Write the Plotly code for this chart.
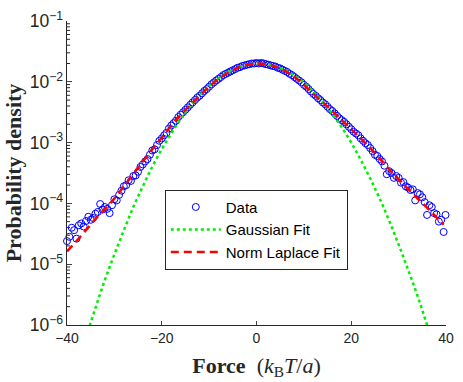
import plotly.graph_objects as go

# measured force distribution (bin centres, probability density)
force = [
    -40.0, -39.5, -39.0, -38.5, -38.0, -37.5, -37.0, -36.5, -36.0, -35.5,
    -35.0, -34.5, -34.0, -33.5, -33.0, -32.5, -32.0, -31.5, -31.0, -30.5,
    -30.0, -29.5, -29.0, -28.5, -28.0, -27.5, -27.0, -26.5, -26.0, -25.5,
    -25.0, -24.5, -24.0, -23.5, -23.0, -22.5, -22.0, -21.5, -21.0, -20.5,
    -20.0, -19.5, -19.0, -18.5, -18.0, -17.5, -17.0, -16.5, -16.0, -15.5,
    -15.0, -14.5, -14.0, -13.5, -13.0, -12.5, -12.0, -11.5, -11.0, -10.5,
    -10.0, -9.5, -9.0, -8.5, -8.0, -7.5, -7.0, -6.5, -6.0, -5.5,
    -5.0, -4.5, -4.0, -3.5, -3.0, -2.5, -2.0, -1.5, -1.0, -0.5,
    0.0, 0.5, 1.0, 1.5, 2.0, 2.5, 3.0, 3.5, 4.0, 4.5,
    5.0, 5.5, 6.0, 6.5, 7.0, 7.5, 8.0, 8.5, 9.0, 9.5,
    10.0, 10.5, 11.0, 11.5, 12.0, 12.5, 13.0, 13.5, 14.0, 14.5,
    15.0, 15.5, 16.0, 16.5, 17.0, 17.5, 18.0, 18.5, 19.0, 19.5,
    20.0, 20.5, 21.0, 21.5, 22.0, 22.5, 23.0, 23.5, 24.0, 24.5,
    25.0, 25.5, 26.0, 26.5, 27.0, 27.5, 28.0, 28.5, 29.0, 29.5,
    30.0, 30.5, 31.0, 31.5, 32.0, 32.5, 33.0, 33.5, 34.0, 34.5,
    35.0, 35.5, 36.0, 36.5, 37.0, 37.5, 38.0, 38.5, 39.0, 39.5,
    39.9,
]
density = [
    2.40e-5, 2.82e-5, 3.98e-5, 3.63e-5, 2.63e-5, 4.37e-5, 4.68e-5, 4.17e-5, 5.13e-5, 6.03e-5,
    5.37e-5, 5.75e-5, 6.76e-5, 7.24e-5, 9.77e-5, 7.94e-5, 8.71e-5, 8.13e-5, 6.92e-5, 9.33e-5,
    1.17e-4, 1.12e-4, 1.38e-4, 1.62e-4, 1.91e-4, 2.00e-4, 2.40e-4, 2.34e-4, 2.82e-4, 2.88e-4,
    3.31e-4, 3.98e-4, 4.37e-4, 4.90e-4, 5.37e-4, 6.31e-4, 7.41e-4, 7.76e-4, 9.12e-4, 1.07e-3,
    1.17e-3, 1.32e-3, 1.45e-3, 1.70e-3, 1.91e-3, 2.09e-3, 2.29e-3, 2.63e-3, 2.88e-3, 3.16e-3,
    3.47e-3, 3.80e-3, 4.17e-3, 4.57e-3, 5.01e-3, 5.50e-3, 5.89e-3, 6.46e-3, 7.08e-3, 7.59e-3,
    8.32e-3, 9.12e-3, 9.77e-3, 1.05e-2, 1.12e-2, 1.20e-2, 1.29e-2, 1.35e-2, 1.41e-2, 1.48e-2,
    1.55e-2, 1.62e-2, 1.70e-2, 1.74e-2, 1.82e-2, 1.86e-2, 1.91e-2, 1.95e-2, 2.00e-2, 2.00e-2,
    2.04e-2, 2.00e-2, 2.04e-2, 2.00e-2, 1.95e-2, 1.91e-2, 1.86e-2, 1.82e-2, 1.78e-2, 1.70e-2,
    1.66e-2, 1.58e-2, 1.51e-2, 1.45e-2, 1.35e-2, 1.29e-2, 1.20e-2, 1.12e-2, 1.05e-2, 9.77e-3,
    8.91e-3, 8.32e-3, 7.59e-3, 6.92e-3, 6.31e-3, 5.89e-3, 5.37e-3, 5.01e-3, 4.57e-3, 4.27e-3,
    3.89e-3, 3.55e-3, 3.31e-3, 3.02e-3, 2.75e-3, 2.51e-3, 2.34e-3, 2.19e-3, 2.00e-3, 1.82e-3,
    1.66e-3, 1.51e-3, 1.41e-3, 1.32e-3, 1.17e-3, 1.07e-3, 9.77e-4, 9.12e-4, 8.13e-4, 7.24e-4,
    6.31e-4, 6.03e-4, 5.37e-4, 4.90e-4, 4.17e-4, 3.02e-4, 3.39e-4, 3.16e-4, 2.63e-4, 2.82e-4,
    2.63e-4, 2.19e-4, 2.24e-4, 1.91e-4, 1.82e-4, 1.66e-4, 1.70e-4, 1.12e-4, 1.48e-4, 1.41e-4,
    1.26e-4, 1.05e-4, 6.46e-5, 9.33e-5, 8.71e-5, 6.92e-5, 6.61e-5, 5.01e-5, 5.37e-5, 3.39e-5,
    6.46e-5,
]

# gaussian fit
gauss_force = [
    -36, -34, -32, -30, -28, -26, -24, -22, -20, -18, -16, -14, -12, -10, -8, -6, -4, -2,
    0, 2, 4, 6, 8, 10, 12, 14, 16, 18, 20, 22, 24, 26, 28, 30, 32, 34, 36, 38,
]
gauss_density = [
    6.3e-7, 1.9e-6, 5.5e-6, 1.45e-5, 3.6e-5, 8.7e-5, 1.9e-4, 4.0e-4, 7.8e-4, 1.41e-3,
    2.45e-3, 4.0e-3, 6.0e-3, 8.5e-3, 1.15e-2, 1.45e-2, 1.70e-2, 1.91e-2,
    2.0e-2, 1.95e-2, 1.82e-2, 1.55e-2, 1.26e-2, 9.8e-3, 6.9e-3, 4.7e-3, 2.95e-3, 1.78e-3,
    1.0e-3, 5.2e-4, 2.57e-4, 1.2e-4, 5.2e-5, 2.1e-5, 8.1e-6, 3.0e-6, 1.0e-6, 3.2e-7,
]

# normal-laplace fit
nl_force = [
    -40, -38, -36, -34, -32, -30, -28, -26, -24, -22, -20, -18, -16, -14, -12, -10, -8, -6, -4, -2,
    0, 2, 4, 6, 8, 10, 12, 14, 16, 18, 20, 22, 24, 26, 28, 30, 32, 34, 36, 38, 39.5,
]
nl_density = [
    1.62e-5, 2.40e-5, 3.63e-5, 5.50e-5, 8.13e-5, 1.20e-4, 1.91e-4, 3.02e-4, 4.90e-4, 7.76e-4,
    1.20e-3, 1.91e-3, 2.88e-3, 4.17e-3, 5.89e-3, 8.32e-3, 1.12e-2, 1.41e-2, 1.70e-2, 1.91e-2,
    2.00e-2, 1.95e-2, 1.78e-2, 1.51e-2, 1.20e-2, 8.91e-3, 6.31e-3, 4.57e-3, 3.31e-3, 2.34e-3,
    1.66e-3, 1.17e-3, 8.13e-4, 5.50e-4, 3.63e-4, 2.51e-4, 1.74e-4, 1.20e-4, 8.51e-5, 5.89e-5,
    4.47e-5,
]

x_ticks = [-40, -20, 0, 20, 40]
axis_col = "#262626"
serif = "Liberation Serif, Times New Roman, serif"

fig = go.Figure()
fig.add_trace(go.Scatter(
    x=force, y=density, mode="markers", name="Data", cliponaxis=False,
    marker=dict(symbol="circle-open", size=7, color="#0000ff", line=dict(width=1)),
))
fig.add_trace(go.Scatter(
    x=gauss_force, y=gauss_density, mode="lines", name="Gaussian Fit",
    line=dict(color="#00ee00", width=2.5, dash="dot", shape="spline"),
))
fig.add_trace(go.Scatter(
    x=nl_force, y=nl_density, mode="lines", name="Norm Laplace Fit",
    line=dict(color="#ff0000", width=2.5, dash="8px,5px", shape="spline"),
))

# minor log ticks (2..9 of each decade) drawn as short inward strokes
for e in range(-6, -1):
    for m in range(2, 10):
        fig.add_shape(type="line", xref="paper", yref="y",
                      x0=0, x1=0.008, y0=m * 10.0 ** e, y1=m * 10.0 ** e,
                      line=dict(color=axis_col, width=1))

fig.update_layout(
    width=463, height=382, autosize=False,
    margin=dict(l=67, r=9, t=13, b=55),
    paper_bgcolor="white", plot_bgcolor="white",
    font=dict(family="Liberation Sans, Arial", size=14, color=axis_col),
    showlegend=True,
    legend=dict(
        x=0.258, y=0.445, xanchor="left", yanchor="top",
        bgcolor="white", bordercolor=axis_col, borderwidth=1,
        font=dict(size=15, color="black"), tracegroupgap=0, itemwidth=50,
    ),
    xaxis=dict(
        range=[-40, 40], tickvals=x_ticks, ticks="inside", ticklen=4,
        showline=True, linecolor=axis_col, linewidth=1, showgrid=False, zeroline=False,
        tickfont=dict(size=14), ticklabeloverflow="allow",
        title=dict(
            text="<b>Force</b>  (<i>k</i><sub>B</sub><i>T</i>/<i>a</i>)",
            font=dict(family=serif, size=22, color=axis_col),
            standoff=12,
        ),
    ),
    yaxis=dict(
        type="log", range=[-6, -1], dtick=1, exponentformat="power",
        ticks="inside", ticklen=5, tickfont=dict(size=14), ticklabeloverflow="allow",
        showline=True, linecolor=axis_col, linewidth=1, showgrid=False, zeroline=False,
        title=dict(
            text="<b>Probability density</b>",
            font=dict(family=serif, size=22, color=axis_col),
            standoff=2,
        ),
    ),
)

fig.write_html("out.html", config={"displayModeBar": False},
               post_script="document.body.style.margin='0';")
